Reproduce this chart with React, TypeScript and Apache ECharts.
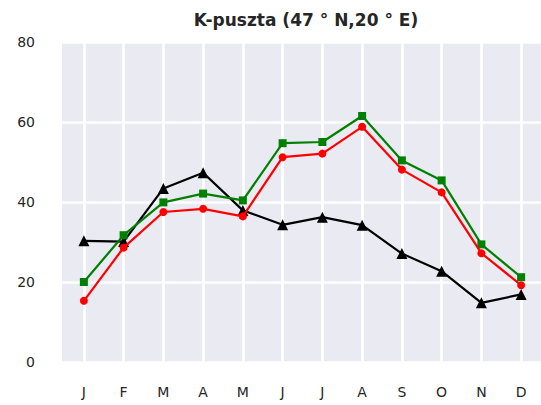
import React, { useEffect, useRef } from "react";
import * as echarts from "echarts";

const months = ["J", "F", "M", "A", "M", "J", "J", "A", "S", "O", "N", "D"];
const blackSeries = [30.3, 30.1, 43.4, 47.3, 37.9, 34.3, 36.2, 34.2, 27.1, 22.7, 14.8, 16.9];
const greenSeries = [20.0, 31.7, 39.9, 42.1, 40.4, 54.7, 55.0, 61.5, 50.4, 45.4, 29.4, 21.2];
const redSeries = [15.3, 28.6, 37.5, 38.3, 36.4, 51.2, 52.1, 58.8, 48.1, 42.4, 27.2, 19.2];
const yTicks = [0, 20, 40, 60, 80];

const FONT = "DejaVu Sans";
const TEXT = "#262626";

const idx = months.map((_, i) => i);
const pairs = (vals: number[]) => vals.map((v, i) => [i, v]);

export default function App() {
  const ref = useRef<HTMLDivElement>(null);
  useEffect(() => {
    document.body.style.margin = "0";
    const chart = echarts.init(ref.current!, null, { renderer: "svg" });
    chart.setOption({
      animation: false,
      backgroundColor: "#ffffff",
      title: {
        text: "K-puszta (47 ° N,20 ° E)",
        left: 301,
        textAlign: "center",
        top: 6,
        textStyle: { fontFamily: FONT, fontSize: 17, fontWeight: "bold", color: TEXT },
      },
      grid: {
        left: 62,
        top: 42,
        width: 479,
        height: 320,
        show: true,
        backgroundColor: "#EAEAF2",
        borderWidth: 0,
        containLabel: false,
      },
      xAxis: {
        type: "value",
        min: -0.55,
        max: 11.5,
        axisLine: { show: false },
        axisTick: { show: false, customValues: idx },
        axisLabel: {
          customValues: idx,
          margin: 23,
          fontFamily: FONT,
          fontSize: 14,
          color: TEXT,
          showMinLabel: true,
          showMaxLabel: true,
          formatter: (v: number) => months[Math.round(v)] ?? "",
        },
        splitLine: { show: false },
      },
      yAxis: {
        type: "value",
        min: yTicks[0],
        max: yTicks[yTicks.length - 1],
        interval: 20,
        axisLine: { show: false },
        axisTick: { show: false },
        axisLabel: { margin: 27, fontFamily: FONT, fontSize: 14, color: TEXT },
        splitLine: { show: true, lineStyle: { color: "#ffffff", width: 2.7 } },
      },
      series: [
        {
          type: "line",
          data: [],
          silent: true,
          z: 1,
          markLine: {
            silent: true,
            z: 1,
            symbol: "none",
            label: { show: false },
            lineStyle: { color: "#ffffff", width: 2.7, type: "solid" },
            data: idx.map((i) => ({ xAxis: i })),
          },
        },
        {
          type: "line",
          data: pairs(blackSeries),
          symbol: "triangle",
          symbolSize: 11,
          showAllSymbol: true,
          lineStyle: { color: "#000000", width: 2.2 },
          itemStyle: { color: "#000000" },
          z: 10,
        },
        {
          type: "line",
          data: pairs(greenSeries),
          symbol: "rect",
          symbolSize: 8,
          showAllSymbol: true,
          lineStyle: { color: "#008000", width: 2.2 },
          itemStyle: { color: "#008000" },
          z: 11,
        },
        {
          type: "line",
          data: pairs(redSeries),
          symbol: "circle",
          symbolSize: 8,
          showAllSymbol: true,
          lineStyle: { color: "#ff0000", width: 2.2 },
          itemStyle: { color: "#ff0000" },
          z: 12,
        },
      ],
    });
    return () => chart.dispose();
  }, []);
  return <div ref={ref} style={{ width: 541, height: 405 }} />;
}
